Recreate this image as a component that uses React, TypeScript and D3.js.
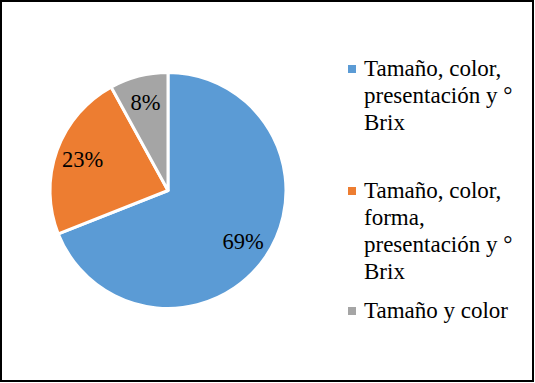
import React from "react";
import * as d3 from "d3";

const categories = [
  "Tamaño, color, presentación y ° Brix",
  "Tamaño, color, forma, presentación y ° Brix",
  "Tamaño y color",
];
const values = [69, 23, 8];
const labels = ["69%", "23%", "8%"];
const legendLines = [
  ["Tamaño, color,", "presentación y °", "Brix"],
  ["Tamaño, color,", "forma,", "presentación y °", "Brix"],
  ["Tamaño y color"],
];
const colors = ["#5B9BD5", "#ED7D31", "#A5A5A5"];

const W = 535;
const H = 383;
const cx = 168;
const cy = 190.5;
const R = 118;
const FONT = "Liberation Serif, Times New Roman, DejaVu Serif, serif";

export default function App() {
  const pie = d3.pie<number>().sort(null).value((d) => d)(values);
  const arc = d3.arc<d3.PieArcDatum<number>>().innerRadius(0).outerRadius(R);
  const labelArc = d3
    .arc<d3.PieArcDatum<number>>()
    .innerRadius(R * 0.77)
    .outerRadius(R * 0.77);

  const legendBaselines = [76, 198, 318];
  const lineH = 27;

  return (
    <div style={{ position: "absolute", left: 0, top: 0 }}>
      <svg width={W} height={H} style={{ display: "block", fontFamily: FONT }}>
        <rect x={0} y={0} width={W} height={H} fill="#fff" />
        <rect x={1} y={1} width={532} height={380} fill="none" stroke="#000" strokeWidth={2} />
        <g transform={`translate(${cx},${cy})`}>
          {pie.map((p, i) => (
            <path key={i} d={arc(p) || ""} fill={colors[i]} stroke="#fff" strokeWidth={3} strokeLinejoin="round" />
          ))}
          {pie.map((p, i) => {
            const [x, y] = labelArc.centroid(p);
            return (
              <text
                key={"l" + i}
                x={x}
                y={y}
                textAnchor="middle"
                dominantBaseline="central"
                style={{ fontFamily: FONT, fontSize: "22.5px" }}
                fill="#000"
              >
                {labels[i]}
              </text>
            );
          })}
        </g>
        {categories.map((c, i) => (
          <g key={"lg" + i}>
            <rect x={348} y={legendBaselines[i] - 11} width={8} height={8} fill={colors[i]} />
            {legendLines[i].map((ln, j) => (
              <text
                key={j}
                x={364}
                y={legendBaselines[i] + j * lineH}
                style={{ fontFamily: FONT, fontSize: "23px" }}
                fill="#000"
              >
                {ln}
              </text>
            ))}
          </g>
        ))}
      </svg>
    </div>
  );
}
